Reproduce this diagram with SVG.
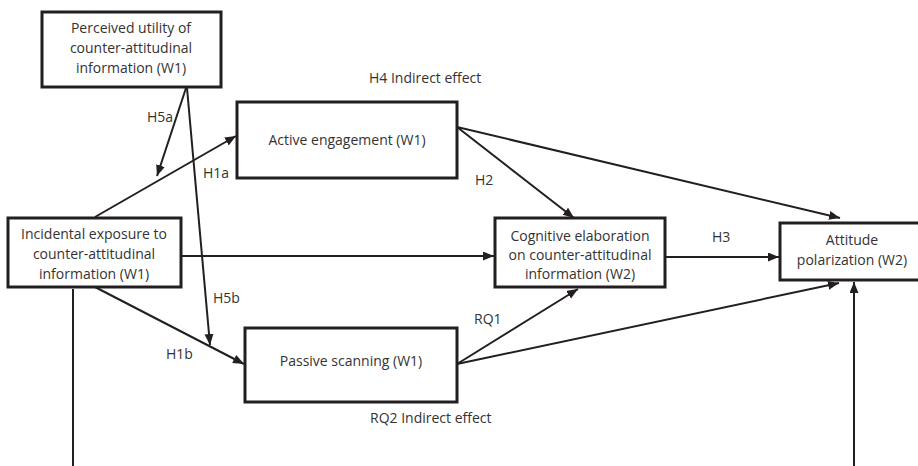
<svg xmlns="http://www.w3.org/2000/svg" width="918" height="466" viewBox="0 0 918 466">
<style>
.box{fill:#fff;stroke:#231f20;stroke-width:3}
.ln{fill:none;stroke:#231f20;stroke-width:2}
.arr{marker-end:url(#ah)}
text{font-family:"Open Sans","Liberation Sans",Arial,sans-serif;font-size:14px;fill:#333}
.c{text-anchor:middle}
</style>
<defs>
<marker id="ah" markerUnits="userSpaceOnUse" markerWidth="12" markerHeight="10" refX="11" refY="4.5" orient="auto">
<path d="M0,0 L11,4.5 L0,9 Z" fill="#231f20"/>
</marker>
</defs>
<rect width="918" height="466" fill="#fff"/>
<g id="connectors">
<line class="ln arr" x1="186" y1="88" x2="157" y2="176"/>
<line class="ln arr" x1="187" y1="88" x2="210" y2="345"/>
<line class="ln arr" x1="95" y1="217" x2="236" y2="136"/>
<line class="ln arr" x1="181" y1="256" x2="494" y2="256"/>
<line class="ln arr" x1="95" y1="287" x2="244" y2="364"/>
<line class="ln arr" x1="457" y1="127" x2="574" y2="218"/>
<line class="ln arr" x1="457" y1="127" x2="840" y2="218"/>
<line class="ln arr" x1="665" y1="257" x2="779" y2="257"/>
<line class="ln arr" x1="457" y1="364" x2="578" y2="289"/>
<line class="ln arr" x1="457" y1="364" x2="839" y2="283"/>
<line class="ln" x1="73" y1="289" x2="73" y2="466"/>
<line class="ln arr" x1="854" y1="466" x2="854" y2="282"/>
</g>
<g id="n-utility">
<rect class="box" x="42" y="12" width="179" height="75"/>
<text class="c" x="131" y="33">Perceived utility of</text>
<text class="c" x="131" y="53">counter-attitudinal</text>
<text class="c" x="131" y="73">information (W1)</text>
</g>
<g id="n-incidental">
<rect class="box" x="8" y="218" width="173" height="69"/>
<text class="c" x="94" y="239">Incidental exposure to</text>
<text class="c" x="94" y="259">counter-attitudinal</text>
<text class="c" x="94" y="279">information (W1)</text>
</g>
<g id="n-active">
<rect class="box" x="237" y="102" width="220" height="76"/>
<text class="c" x="347" y="145">Active engagement (W1)</text>
</g>
<g id="n-passive">
<rect class="box" x="245" y="328" width="212" height="74"/>
<text class="c" x="351" y="366">Passive scanning (W1)</text>
</g>
<g id="n-cognitive">
<rect class="box" x="495" y="218" width="170" height="69"/>
<text class="c" x="580" y="241">Cognitive elaboration</text>
<text class="c" x="580" y="260">on counter-attitudinal</text>
<text class="c" x="580" y="279">information (W2)</text>
</g>
<g id="n-attitude">
<rect class="box" x="780" y="223" width="142" height="57"/>
<text class="c" x="852" y="245">Attitude</text>
<text class="c" x="852" y="265">polarization (W2)</text>
</g>
<g id="labels">
<text x="369" y="83">H4 Indirect effect</text>
<text x="147" y="122">H5a</text>
<text x="203" y="178">H1a</text>
<text x="475" y="185">H2</text>
<text x="712" y="242">H3</text>
<text x="213" y="303">H5b</text>
<text x="166" y="359">H1b</text>
<text x="474" y="324">RQ1</text>
<text x="370" y="423">RQ2 Indirect effect</text>
</g>
</svg>
